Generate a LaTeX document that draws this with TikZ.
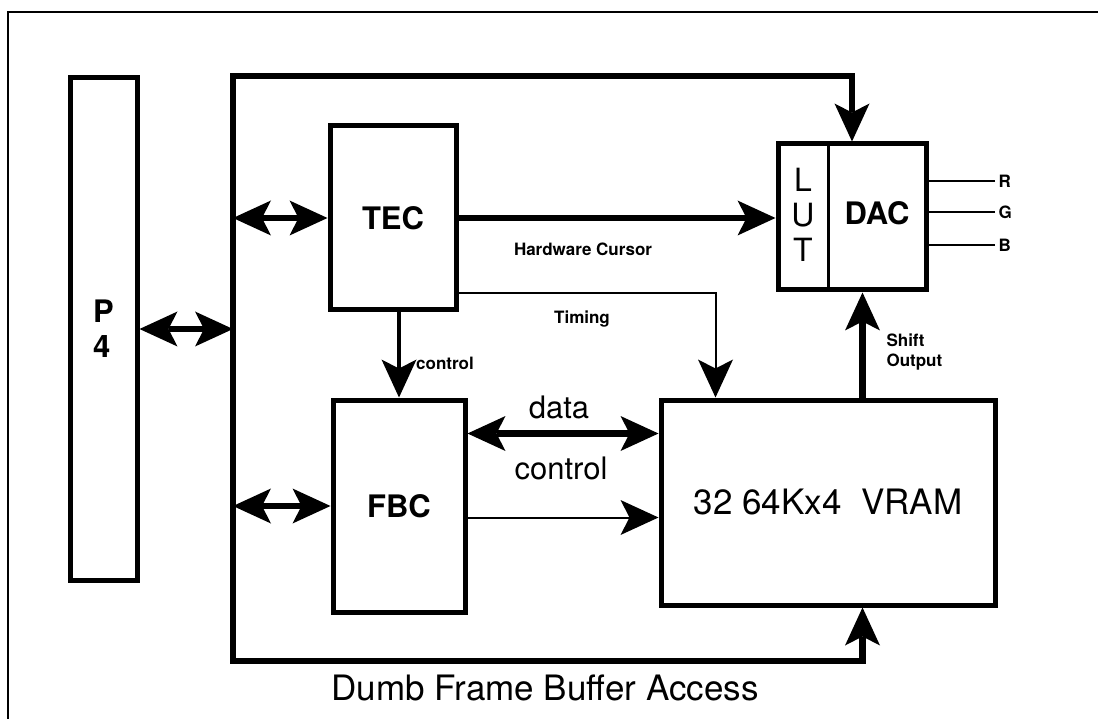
\documentclass[tikz,border=0pt]{standalone}
\usepackage{fontspec}
\setmainfont{TeX Gyre Heros}
\usetikzlibrary{arrows.meta,calc}
\tikzset{
  blk/.style={draw,line width=5pt,inner sep=0pt},
  bus/.style={line width=6.5pt},
  sig/.style={line width=2pt},
  big/.style={font=\fontsize{31}{35}\selectfont\bfseries},
  lab/.style={font=\fontsize{17}{20}\selectfont\bfseries},
  txt/.style={font=\fontsize{31}{34}\selectfont},
}
\begin{document}
\begin{tikzpicture}[x=1pt,y=-1pt,>={Stealth[length=38pt,width=35pt,inset=9pt,line width=0pt]}]
  \useasboundingbox (0,0) rectangle (1098,719);
  \draw[line width=2pt] (8,719) -- (8,12) -- (1098,12);
  \node[blk,big,minimum width=67pt,minimum height=502pt,align=left] (p4) at (103.5,329) {P\\4};
  \node[blk,big,minimum width=126pt,minimum height=184pt] (tec) at (393,218) {TEC};
  \node[blk,big,minimum width=132pt,minimum height=212pt] (fbc) at (399,506) {FBC};
  \node[blk,minimum width=148pt,minimum height=146pt] (dac) at (852,217) {};
  \node[blk,font=\fontsize{35}{38}\selectfont,minimum width=334pt,minimum height=205pt] (vram) at (828,502.5) {32 64Kx4\ \ VRAM};
  \coordinate (lx) at (828,0);
  \draw[line width=3pt] (dac.north -| lx) -- (dac.south -| lx);
  \node[font=\fontsize{32}{35}\selectfont,align=center] (lut) at (803,215) {L\\U\\T};
  \node[big] (dactxt) at (877,213) {DAC};
  \coordinate (bustl) at (233,76);
  \coordinate (busbl) at (233,661);
  \coordinate (sx) at ($(vram.south east)+(-135,0)$);
  \draw[bus,<->] (dac.north) |- (bustl) -- (busbl) -| (sx);
  \draw[bus,<->] (p4.east) -- (bustl |- p4.east);
  \draw[bus,<->] (bustl |- tec.west) -- (tec.west);
  \draw[bus,<->] (bustl |- fbc.west) -- (fbc.west);
  \draw[bus,->] (tec.east) -- (tec.east -| dac.west);
  \draw[bus,->] (sx |- vram.north) -- (sx |- dac.south);
  \coordinate (ts) at ($(tec.south east)+(0,-19)$);
  \draw[sig,->] (ts) -| ($(vram.north west)+(57,0)$);
  \draw[line width=4pt,->] (tec.south -| fbc.north) -- (fbc.north);
  \coordinate (dl) at ($(fbc.north east)+(0,36)$);
  \coordinate (cl) at ($(fbc.north east)+(0,120)$);
  \draw[bus,<->] (dl) -- (dl -| vram.west);
  \draw[sig,->] (cl) -- (cl -| vram.west);
  \node[lab] (hwc) at (583,249) {Hardware Cursor};
  \node[lab] (tim) at (582,319) {Timing};
  \node[lab] (ctla) at (445,363) {control};
  \node[txt] (dat) at (559,407) {data};
  \node[txt] (ctlb) at (561,468) {control};
  \node[lab,align=left,anchor=west] (sho) at (883,352) {Shift\\Output};
  \foreach \c/\y in {R/181,G/212,B/245} {
    \node[lab,anchor=west] (\c) at (995,\y) {\c};
    \draw[line width=2.5pt] (\c.west) -- (\c.west -| dac.east);
  }
  \node[font=\fontsize{35}{38}\selectfont] (cap) at (545,688) {Dumb Frame Buffer Access};
\end{tikzpicture}
\end{document}
